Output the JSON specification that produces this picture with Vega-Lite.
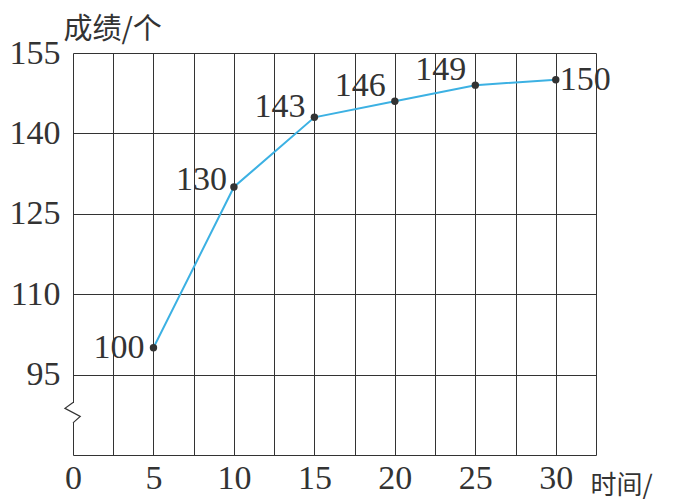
{
  "$schema": "https://vega.github.io/schema/vega-lite/v6.json",
  "autosize": "none",
  "width": 523,
  "height": 402,
  "padding": {"left": 73, "top": 53, "right": 83, "bottom": 46},
  "background": "white",
  "config": {"view": {"stroke": null}},
  "data": {"values": [
    {"t": 5, "score": 100},
    {"t": 10, "score": 130},
    {"t": 15, "score": 143},
    {"t": 20, "score": 146},
    {"t": 25, "score": 149},
    {"t": 30, "score": 150}
  ]},
  "encoding": {
    "x": {"field": "t", "type": "quantitative",
      "scale": {"domain": [0, 32.5], "nice": false, "zero": false},
      "axis": {
        "values": [0, 2.5, 5, 7.5, 10, 12.5, 15, 17.5, 20, 22.5, 25, 27.5, 30, 32.5],
        "labelExpr": "(datum.value % 5 === 0 && datum.value <= 30) ? datum.label : ''",
        "grid": true, "gridColor": "#333", "gridWidth": 1, "gridOpacity": 1,
        "domain": false, "ticks": false,
        "labelFont": "Liberation Serif", "labelFontSize": 34, "labelColor": "#333",
        "labelPadding": 6, "labelFlush": false, "labelOverlap": false,
        "title": "时间/", "titleFont": "Noto Sans CJK SC", "titleFontSize": 26,
        "titleFontWeight": "normal", "titleColor": "#333",
        "titleAlign": "left", "titleBaseline": "alphabetic", "titleAnchor": null,
        "titleX": 517, "titleY": 38
      }},
    "y": {"field": "score", "type": "quantitative",
      "scale": {"domain": [80, 155], "nice": false, "zero": false},
      "axis": {
        "values": [80, 95, 110, 125, 140, 155],
        "labelExpr": "datum.value === 80 ? '' : datum.label",
        "grid": true, "gridColor": "#333", "gridWidth": 1, "gridOpacity": 1,
        "domain": false, "ticks": false,
        "labelFont": "Liberation Serif", "labelFontSize": 34, "labelColor": "#333",
        "labelPadding": 13, "labelFlush": false, "labelOverlap": false,
        "title": "成绩/个", "titleFont": "Noto Sans CJK SC", "titleFontSize": 29,
        "titleFontWeight": "normal", "titleColor": "#333", "titleAngle": 0,
        "titleAlign": "left", "titleBaseline": "alphabetic", "titleAnchor": null,
        "titleX": -10, "titleY": -15
      }}
  },
  "layer": [
    {
      "mark": {"type": "rule", "color": "white", "strokeWidth": 4},
      "encoding": {"x": {"datum": 0}, "y": {"datum": 86}, "y2": {"datum": 89.7}}
    },
    {
      "data": {"values": [
        {"i": 0, "bx": 0, "by": 89.8},
        {"i": 1, "bx": -0.5, "by": 88.7},
        {"i": 2, "bx": 0.45, "by": 87.2},
        {"i": 3, "bx": 0, "by": 86}
      ]},
      "mark": {"type": "line", "color": "#333", "strokeWidth": 1.2},
      "encoding": {
        "x": {"field": "bx", "type": "quantitative"},
        "y": {"field": "by", "type": "quantitative"},
        "order": {"field": "i", "type": "quantitative"}
      }
    },
    {"mark": {"type": "line", "color": "#3cb1e3", "strokeWidth": 2}},
    {"mark": {"type": "point", "filled": true, "color": "#333", "size": 55, "opacity": 1}},
    {
      "transform": [{"filter": "datum.t === 5"}],
      "mark": {"type": "text", "font": "Liberation Serif", "fontSize": 34, "color": "#333", "align": "right", "baseline": "middle", "dx": -9, "dy": 0},
      "encoding": {"text": {"field": "score"}}
    },
    {
      "transform": [{"filter": "datum.t === 10"}],
      "mark": {"type": "text", "font": "Liberation Serif", "fontSize": 34, "color": "#333", "align": "right", "baseline": "middle", "dx": -7, "dy": -7},
      "encoding": {"text": {"field": "score"}}
    },
    {
      "transform": [{"filter": "datum.t === 15"}],
      "mark": {"type": "text", "font": "Liberation Serif", "fontSize": 34, "color": "#333", "align": "right", "baseline": "middle", "dx": -9, "dy": -10},
      "encoding": {"text": {"field": "score"}}
    },
    {
      "transform": [{"filter": "datum.t === 20 || datum.t === 25"}],
      "mark": {"type": "text", "font": "Liberation Serif", "fontSize": 34, "color": "#333", "align": "right", "baseline": "middle", "dx": -9, "dy": -15},
      "encoding": {"text": {"field": "score"}}
    },
    {
      "transform": [{"filter": "datum.t === 30"}],
      "mark": {"type": "text", "font": "Liberation Serif", "fontSize": 34, "color": "#333", "align": "left", "baseline": "middle", "dx": 4, "dy": 0},
      "encoding": {"text": {"field": "score"}}
    }
  ]
}
